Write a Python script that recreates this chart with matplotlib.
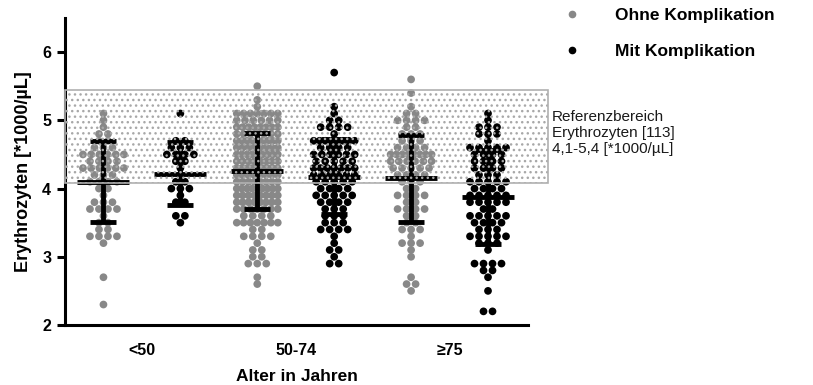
import matplotlib
matplotlib.use('Agg')
import matplotlib.pyplot as plt
from matplotlib.patches import Rectangle
from matplotlib.lines import Line2D
import numpy as np

plt.rcParams['font.family'] = ['Liberation Sans', 'DejaVu Sans']
plt.rcParams['hatch.linewidth'] = 1.0

# ---------------- data (value -> number of patients) ----------------
age_groups = ['<50', '50-74', '≥75']
series_names = ['Ohne Komplikation', 'Mit Komplikation']
series_colors = ['#888888', '#000000']

ohne_lt50 = {5.1: 1, 5.0: 1, 4.9: 1, 4.8: 2, 4.7: 2, 4.6: 3, 4.5: 6, 4.4: 4, 4.3: 6,
             4.2: 3, 4.1: 4, 4.0: 2, 3.9: 1, 3.8: 3, 3.7: 4, 3.6: 1, 3.5: 2, 3.4: 2,
             3.3: 4, 3.2: 1, 2.7: 1, 2.3: 1}
mit_lt50 = {5.1: 1, 4.7: 2, 4.6: 3, 4.5: 4, 4.4: 2, 4.3: 1, 4.2: 1, 4.1: 2, 4.0: 3,
            3.9: 1, 3.8: 2, 3.6: 2, 3.5: 1}
ohne_50_74 = {5.5: 1, 5.3: 1, 5.2: 1, 5.1: 7, 5.0: 6, 4.9: 8, 4.8: 7, 4.7: 9, 4.6: 8,
              4.5: 9, 4.4: 8, 4.3: 9, 4.2: 8, 4.1: 8, 4.0: 9, 3.9: 8, 3.8: 8, 3.7: 7,
              3.6: 4, 3.5: 7, 3.4: 2, 3.3: 4, 3.2: 1, 3.1: 2, 3.0: 2, 2.9: 3, 2.7: 1,
              2.6: 1}
mit_50_74 = {5.7: 1, 5.2: 1, 5.1: 1, 5.0: 2, 4.9: 4, 4.8: 1, 4.7: 8, 4.6: 4, 4.5: 6,
             4.4: 5, 4.3: 7, 4.2: 6, 4.1: 5, 4.0: 4, 3.9: 5, 3.8: 4, 3.7: 3, 3.6: 3,
             3.5: 3, 3.4: 4, 3.3: 1, 3.2: 1, 3.1: 2, 3.0: 1, 2.9: 2}
ohne_ge75 = {5.6: 1, 5.4: 1, 5.2: 1, 5.1: 2, 5.0: 4, 4.9: 2, 4.8: 3, 4.7: 3, 4.6: 4,
             4.5: 8, 4.4: 6, 4.3: 5, 4.2: 4, 4.1: 3, 4.0: 2, 3.9: 4, 3.8: 2, 3.7: 4,
             3.6: 2, 3.5: 2, 3.4: 3, 3.3: 1, 3.2: 3, 3.1: 1, 3.0: 1, 2.7: 1, 2.6: 2,
             2.5: 1}
mit_ge75 = {5.1: 1, 5.0: 1, 4.9: 3, 4.8: 3, 4.7: 1, 4.6: 5, 4.5: 4, 4.4: 4, 4.3: 4,
            4.2: 3, 4.1: 5, 4.0: 4, 3.9: 5, 3.8: 5, 3.7: 2, 3.6: 5, 3.5: 4, 3.4: 3,
            3.3: 5, 3.2: 3, 3.1: 1, 2.9: 4, 2.8: 2, 2.7: 1, 2.5: 1, 2.2: 2}

# mean and standard deviation per column
means = [4.10, 4.22, 4.26, 4.17, 4.15, 3.88]
sds = [0.59, 0.46, 0.56, 0.55, 0.64, 0.69]

ref_low, ref_high = 4.08, 5.44
ref_text = 'Referenzbereich\nErythrozyten [113]\n4,1-5,4 [*1000/µL]'

columns = [ohne_lt50, mit_lt50, ohne_50_74, mit_50_74, ohne_ge75, mit_ge75]

# ---------------- figure ----------------
W, H = 813, 385
fig = plt.figure(figsize=(W / 100, H / 100), dpi=100)
ax_l, ax_r, ax_b, ax_t = 65, 528, 325, 18
ax = fig.add_axes([ax_l / W, 1 - ax_b / H, (ax_r - ax_l) / W, (ax_b - ax_t) / H])
xmin, xmax = -0.5, 5.52
ax.set_xlim(xmin, xmax)
ax.set_ylim(2, 6.5)
px_per_unit = (ax_r - ax_l) / (xmax - xmin)

spacing_px = 9.0
max_width_px = 41.0
for i, col in enumerate(columns):
    color = series_colors[i % 2]
    xs, ys = [], []
    for v, n in col.items():
        if n > 1:
            s = min(spacing_px, max_width_px / (n - 1))
        else:
            s = 0
        offs = (np.arange(n) - (n - 1) / 2) * s / px_per_unit
        xs.extend(i + offs)
        ys.extend([v] * n)
    ax.scatter(xs, ys, s=31, color=color, edgecolors='none', zorder=2)

# error bars: mean +/- SD
pos = np.arange(len(columns))
m = np.array(means)
sd = np.array(sds)
lw = 3.5
ax.vlines(pos, m - sd, m + sd, color='black', lw=lw, zorder=3)
cap_half = 13 / px_per_unit
mean_half = 26 / px_per_unit
ax.hlines(m + sd, pos - cap_half, pos + cap_half, color='black', lw=lw, zorder=3)
ax.hlines(m - sd, pos - cap_half, pos + cap_half, color='black', lw=lw, zorder=3)
ax.hlines(m, pos - mean_half, pos + mean_half, color='black', lw=lw, zorder=3)

# reference range box (drawn on top, extends beyond axis)
box_right = (548 - ax_l) / (ax_r - ax_l)
hatch_rect = Rectangle((0, ref_low), box_right, ref_high - ref_low,
                       transform=ax.get_yaxis_transform(), facecolor='none',
                       edgecolor='#a8a8a8', lw=0, hatch='...', clip_on=False, zorder=4)
ax.add_patch(hatch_rect)
edge_rect = Rectangle((0, ref_low), box_right, ref_high - ref_low,
                      transform=ax.get_yaxis_transform(), facecolor='none',
                      edgecolor='#b0b0b0', lw=1.2, clip_on=False, zorder=4)
ax.add_patch(edge_rect)

fig.text(552 / W, 1 - 133 / H, ref_text, ha='left', va='center',
         fontsize=11, color='#1a1a1a', linespacing=1.22)

# axes styling
for sp in ['top', 'right']:
    ax.spines[sp].set_visible(False)
for sp in ['left', 'bottom']:
    ax.spines[sp].set_linewidth(2.2)
ax.set_yticks([2, 3, 4, 5, 6])
ax.set_yticklabels(['2', '3', '4', '5', '6'], fontweight='bold', fontsize=11.5)
ax.tick_params(axis='y', length=6, width=2.2, pad=4)
ax.set_xticks([0.5, 2.5, 4.5])
ax.set_xticklabels(age_groups, fontweight='bold', fontsize=11.5)
ax.tick_params(axis='x', length=0, pad=13)
ax.set_ylabel('Erythrozyten [*1000/µL]', fontweight='bold', fontsize=13, labelpad=7)
ax.set_xlabel('Alter in Jahren', fontweight='bold', fontsize=12.5, labelpad=8)

# legend
handles = [Line2D([], [], marker='o', ls='', color=c, markersize=4.5) for c in series_colors]
leg = fig.legend(handles, series_names, loc='center left',
                 bbox_to_anchor=(563 / W, 1 - 33.5 / H), frameon=False,
                 prop={'weight': 'bold', 'size': 12.5}, handlelength=1.0,
                 handletextpad=2.0, labelspacing=1.2, borderpad=0, borderaxespad=0)

fig.savefig('out.png', dpi=100)
